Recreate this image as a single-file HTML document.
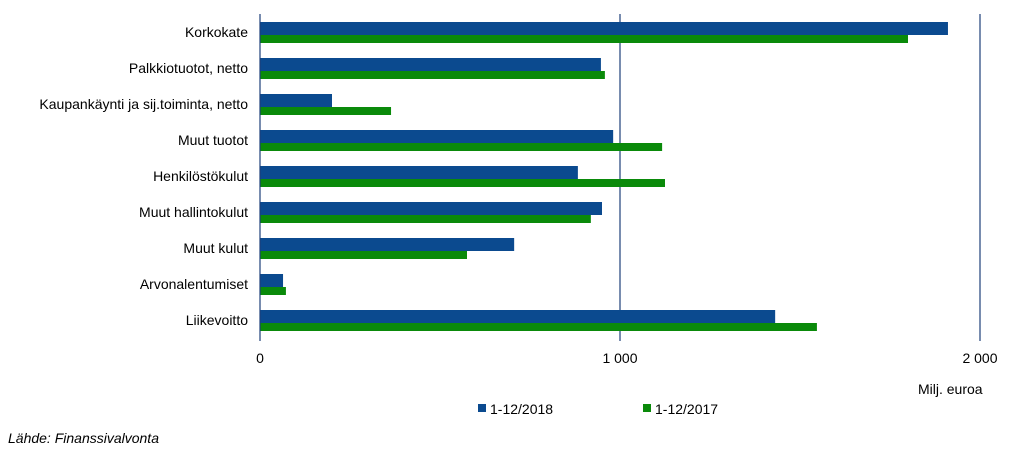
<!DOCTYPE html>
<html><head><meta charset="utf-8"><style>
body{margin:0;background:#fff;font-family:"Liberation Sans",sans-serif}
svg text{font-family:"Liberation Sans",sans-serif;font-size:14px;fill:#000}
</style></head><body>
<svg width="1023" height="456">
<g id="grid"></g><g id="bars"></g><g id="labels"></g>
<line x1="260" y1="14" x2="260" y2="341" stroke="#1f3f7a" stroke-width="1.2"/>
<text x="260" y="363" text-anchor="middle">0</text>
<text x="620" y="363" text-anchor="middle">1 000</text>
<text x="980" y="363" text-anchor="middle">2 000</text>
<text x="918" y="394">Milj. euroa</text>
<rect x="478" y="404" width="8" height="8" fill="#0b4a8f"/>
<text x="490" y="414">1-12/2018</text>
<rect x="643" y="404" width="8" height="8" fill="#0a8a0a"/>
<text x="655" y="414">1-12/2017</text>
<text x="8" y="443" font-style="italic" style="font-style:italic">Lähde: Finanssivalvonta</text>
</svg>
<script>
const categories=["Korkokate","Palkkiotuotot, netto","Kaupankäynti ja sij.toiminta, netto","Muut tuotot","Henkilöstökulut","Muut hallintokulut","Muut kulut","Arvonalentumiset","Liikevoitto"];
const values2018=[1911,947,200,981,883,950,706,64,1431];
const values2017=[1800,958,364,1117,1125,919,575,72,1547];
const ticks=[1000,2000];
const NS="http://www.w3.org/2000/svg";
const x=v=>260+v*0.36;
const rowY=i=>22+i*36;
function mk(t,a,p){const e=document.createElementNS(NS,t);for(const k in a)e.setAttribute(k,a[k]);document.getElementById(p).appendChild(e);return e;}
ticks.forEach(t=>{const l=mk('line',{x1:x(t),x2:x(t),y1:14,y2:341,stroke:'#1f3f7a','stroke-width':1.2},'grid');

});
categories.forEach((c,i)=>{
const y=rowY(i);
const b=mk('rect',{x:260,y:y,width:x(values2018[i])-260,height:13,fill:'#0b4a8f'},'bars');


const g=mk('rect',{x:260,y:y+13,width:x(values2017[i])-260,height:8,fill:'#0a8a0a'},'bars');


const t=mk('text',{x:248,y:y+15,'text-anchor':'end'},'labels');t.textContent=c;


});
</script>
</body></html>
